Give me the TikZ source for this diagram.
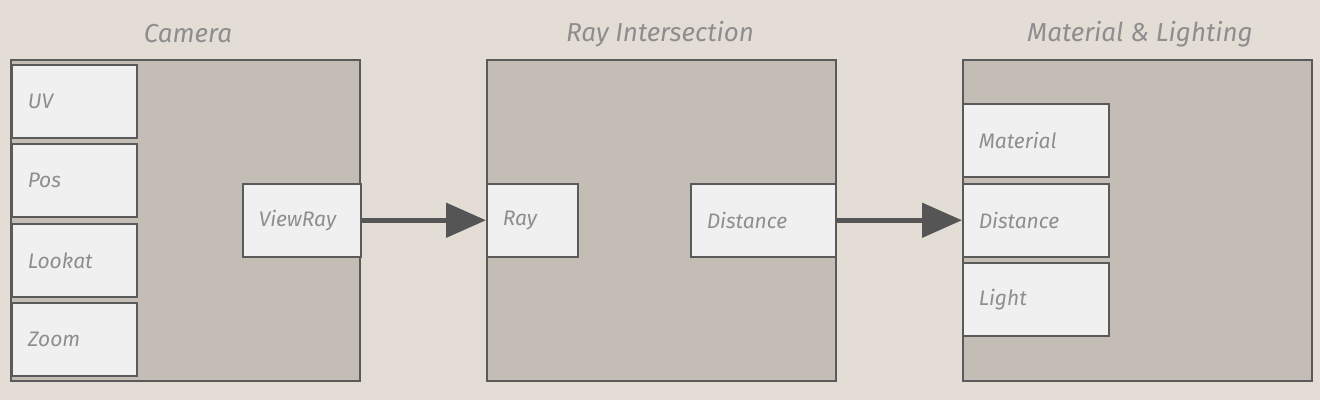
\documentclass[tikz,border=0pt]{standalone}
\usepackage{fontspec}
\setmainfont{Fira Sans}
\usetikzlibrary{arrows.meta}
\definecolor{paper}{HTML}{E4DDD5}
\definecolor{panel}{HTML}{C4BDB6}
\definecolor{cell}{HTML}{F0F0F0}
\definecolor{edge}{HTML}{5A5A5A}
\definecolor{txt}{HTML}{8E8E8E}
\definecolor{arr}{HTML}{555555}
\tikzset{
  panelbox/.style={draw=edge, line width=1.5pt, fill=panel, minimum width=349pt, minimum height=321pt, inner sep=0pt, anchor=north west},
  cellbox/.style={draw=edge, line width=1.5pt, fill=cell, minimum height=73pt, inner sep=0pt, anchor=north west, text=txt, font=\itshape\fontsize{21}{21}\selectfont, align=left, text width=#1-32pt, minimum width=#1},
  title/.style={text=txt, font=\itshape\fontsize{26}{26}\selectfont},
  flow/.style={draw=arr, line width=5pt, -{Triangle[length=40pt,width=34pt]}}
}
\begin{document}
\begin{tikzpicture}[x=1pt,y=-1pt]
\useasboundingbox[fill=paper] (0,0) rectangle (1320,400);
% panels
\node[panelbox] (cam) at (10,59) {};
\node[panelbox] (ri) at (486,59) {};
\node[panelbox] (ml) at (962,59) {};
% titles
\node[title] (tcam) at (188,34) {Camera};
\node[title] (tri) at (660,34) {Ray Intersection};
\node[title] (tml) at (1140,34) {Material \& Lighting};
% camera cells
\node[cellbox=125pt] (uv) at (11,64) {UV};
\node[cellbox=125pt] (pos) at (11,143) {Pos};
\node[cellbox=125pt] (look) at (11,223) {Lookat};
\node[cellbox=125pt] (zoom) at (11,302) {Zoom};
\node[cellbox=118pt] (view) at (242,183) {ViewRay};
% ray intersection cells
\node[cellbox=91pt] (ray) at (486,183) {Ray};
\node[cellbox=145pt] (dist) at (690,183) {Distance};
% material cells
\node[cellbox=146pt] (mat) at (962,103) {Material};
\node[cellbox=146pt] (dist2) at (962,183) {Distance};
\node[cellbox=146pt] (light) at (962,262) {Light};
% arrows
\draw[flow] (view.east) -- (ray.west);
\draw[flow] (dist.east) -- (dist2.west);
\end{tikzpicture}
\end{document}
